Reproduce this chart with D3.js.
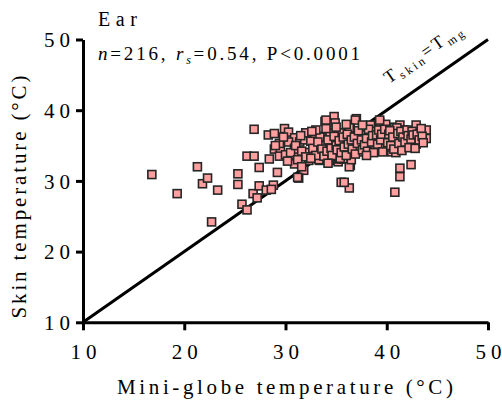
<!DOCTYPE html>
<html><head><meta charset="utf-8">
<script src="https://cdn.jsdelivr.net/npm/d3@7"></script>
<style>
body{margin:0;background:#fff}
svg{display:block}
text{font-family:"Liberation Serif","DejaVu Serif","Times New Roman",Tinos,"Noto Serif",serif;fill:#000}
</style>
</head><body>
<svg id="chart" width="502" height="405"></svg>
<script>
// Mini-globe temperature (°C) per observation
const mgTemp = [
16.8,19.3,21.3,21.8,22.3,23.3,22.7,25.3,25.3,25.7,
26.2,26.2,26.9,26.9,27.4,26.8,27.2,27.4,28.1,28.8,
28.6,29.2,28.4,28.9,29.5,29.4,28.3,28.9,29.9,30.3,
30.9,30.3,30.0,30.9,30.9,30.9,31.4,31.9,31.8,31.3,
32.4,32.3,32.9,33.4,33.9,34.8,34.9,34.4,35.4,33.9,
33.4,33.4,34.3,34.9,34.7,35.6,35.2,35.5,32.9,29.4,
36.3,37.0,36.4,39.3,38.4,39.9,40.8,41.3,42.9,43.9,
43.9,42.9,41.9,41.9,41.0,40.9,40.0,40.0,39.0,38.9,
38.8,37.7,37.4,38.4,37.4,36.9,35.9,36.4,36.4,36.4,
35.7,39.7,40.5,41.3,41.3,42.4,40.8,35.8,36.0,33.3,
32.3,36.3,35.3,38.3,37.9,38.8,39.9,39.9,40.9,31.9,
32.9,33.4,34.4,30.9,31.2,34.0,36.9,36.3,41.7,41.0,
39.3,35.2,34.4,37.4,37.4,39.3,36.5,36.5,35.4,34.3,
30.5,31.0,31.6,32.0,32.5,32.7,33.0,33.2,33.6,33.8,
34.1,34.2,34.5,34.6,34.8,35.0,35.1,35.3,35.5,35.7,
35.8,36.0,36.1,36.2,36.5,36.6,36.8,36.9,37.1,37.2,
37.5,37.6,37.8,38.0,38.1,38.2,38.5,38.6,38.7,39.0,
39.1,39.2,39.4,39.5,39.6,39.8,40.1,40.2,40.3,40.4,
40.6,40.7,41.1,41.2,41.4,41.5,41.6,41.8,42.0,42.1,
42.2,42.4,42.5,42.6,42.8,43.0,43.2,43.4,43.5,33.0,
34.0,35.0,36.0,32.0,31.2,30.2,29.8,37.6,38.0,31.5,
32.6,31.6,32.5,34.2,29.0,43.6
];
// Ear skin temperature (°C) per observation
const skinTemp = [
30.9,28.2,32.0,29.6,30.4,28.7,24.2,31.0,29.5,26.7,
25.9,33.5,33.5,37.3,31.9,28.2,27.6,29.3,28.7,29.4,
28.8,31.2,33.1,34.5,34.2,33.5,36.5,36.7,37.4,36.9,
36.1,35.5,33.7,33.7,32.4,34.6,35.5,35.9,31.5,30.4,
34.0,32.9,35.0,36.3,38.4,39.1,38.2,36.8,36.8,35.0,
34.1,32.9,32.9,34.1,35.3,35.5,32.7,29.8,36.3,35.3,
29.0,38.8,37.6,38.3,37.9,38.0,37.6,37.9,37.9,37.2,
36.0,35.2,36.0,34.8,34.8,35.9,36.0,34.8,34.6,35.9,
36.9,36.5,35.5,34.7,34.1,35.0,35.6,34.1,33.1,32.2,
33.1,34.5,34.1,31.8,30.6,32.3,28.4,29.8,35.7,33.0,
34.0,32.0,33.1,34.6,36.5,37.0,36.0,34.8,34.0,35.8,
35.1,36.2,36.7,34.5,30.5,38.6,38.6,37.5,37.2,37.5,
38.6,36.0,35.1,36.0,34.7,34.6,34.1,33.0,33.2,33.0,
34.0,35.0,34.2,33.4,35.6,34.6,33.6,35.5,34.5,33.5,
34.2,35.8,34.6,33.6,36.3,35.0,34.4,35.7,34.0,36.2,
34.8,33.6,36.6,35.2,35.8,34.5,36.2,33.8,35.3,37.1,
35.8,34.4,35.1,36.0,34.2,37.3,35.5,36.4,34.0,36.5,
35.2,37.2,35.8,36.6,34.1,37.3,35.4,36.6,37.1,35.0,
36.2,34.5,36.7,35.3,37.0,34.3,36.2,35.5,37.2,36.4,
34.7,35.9,37.0,36.5,34.6,36.6,35.8,37.4,36.3,37.2,
37.4,37.6,38.0,36.8,33.0,32.8,36.2,37.9,33.6,36.4,
37.0,32.0,33.2,32.5,35.0,35.4
];
const xTicks = [10, 20, 30, 40, 50];
const yTicks = [10, 20, 30, 40, 50];
const panelTitle = "Ear";
const xTitle = "Mini-globe temperature (°C)";
const yTitle = "Skin temperature (°C)";
const identityLine = [10, 50];

const FONT = '"Liberation Serif","DejaVu Serif","Times New Roman",Tinos,"Noto Serif",serif';
const svg = d3.select("#chart");
const x = d3.scaleLinear().domain([10, 50]).range([83, 488]);
const y = d3.scaleLinear().domain([10, 50]).range([322.3, 39.5]);

// x axis
const gx = svg.append("g").attr("transform", `translate(0,${y(10)})`)
  .call(d3.axisBottom(x).tickValues(xTicks).tickSize(8).tickSizeOuter(0).tickFormat(d3.format("d")));
// y axis
const gy = svg.append("g").attr("transform", `translate(${x(10)},0)`)
  .call(d3.axisLeft(y).tickValues(yTicks).tickSize(7).tickSizeOuter(0).tickFormat(d3.format("d")));

[gx, gy].forEach(g => {
  g.attr("font-family", FONT);
  g.select(".domain").attr("stroke", "#000").attr("stroke-width", 3);
  g.selectAll(".tick line").attr("stroke", "#000").attr("stroke-width", 3);
  g.selectAll(".tick text").attr("font-family", FONT)
    .attr("font-size", 21).attr("textLength", 26).attr("lengthAdjust", "spacing").attr("fill", "#000");
});
gx.selectAll(".tick text").attr("y", 22).attr("dy", "0.71em");
gy.selectAll(".tick text").attr("x", -13).attr("dy", "0.34em");

// identity line
svg.append("line")
  .attr("x1", x(identityLine[0])).attr("y1", y(identityLine[0]))
  .attr("x2", x(identityLine[1])).attr("y2", y(identityLine[1]))
  .attr("stroke", "#000").attr("stroke-width", 3);

// points
const pts = mgTemp.map((v, i) => [v, skinTemp[i]]);
const s = 8;
svg.append("g").selectAll("rect").data(pts).join("rect")
  .attr("x", d => x(d[0]) - s / 2).attr("y", d => y(d[1]) - s / 2)
  .attr("width", s).attr("height", s)
  .attr("fill", "#ff9f9f").attr("stroke", "#262626").attr("stroke-width", 1.6);

// line label
const ang = Math.atan2(y(10) - y(50), x(50) - x(10)) * 180 / Math.PI;
const lbl = svg.append("text")
  .attr("transform", `translate(389,84) rotate(${-ang})`)
  .attr("font-size", 18).attr("textLength", 90).attr("lengthAdjust", "spacing");
lbl.append("tspan").text("T");
lbl.append("tspan").attr("font-size", 12).attr("dy", 4).text("skin");
lbl.append("tspan").attr("dy", -4).text("=T");
lbl.append("tspan").attr("font-size", 12).attr("dy", 4).text("mg");

// panel title
svg.append("text").attr("x", 98).attr("y", 26).attr("font-size", 20)
  .attr("textLength", 39).attr("lengthAdjust", "spacing").text(panelTitle);

// stats line
const st = svg.append("text").attr("x", 98).attr("y", 60).attr("font-size", 19)
  .attr("textLength", 262).attr("lengthAdjust", "spacing");
st.append("tspan").attr("font-style", "italic").text("n");
st.append("tspan").text("=216, ");
st.append("tspan").attr("font-style", "italic").text("r");
st.append("tspan").attr("font-style", "italic").attr("font-size", 12).attr("dy", 4).text("s");
st.append("tspan").attr("dy", -4).text("=0.54, P<0.0001");

// axis titles
svg.append("text").attr("x", 285).attr("y", 394).attr("text-anchor", "middle")
  .attr("font-size", 21).attr("textLength", 336).attr("lengthAdjust", "spacing")
  .text(xTitle);
svg.append("text").attr("transform", "translate(26,197) rotate(-90)")
  .attr("text-anchor", "middle").attr("font-size", 21)
  .attr("textLength", 243).attr("lengthAdjust", "spacing").text(yTitle);
</script>
</body></html>
